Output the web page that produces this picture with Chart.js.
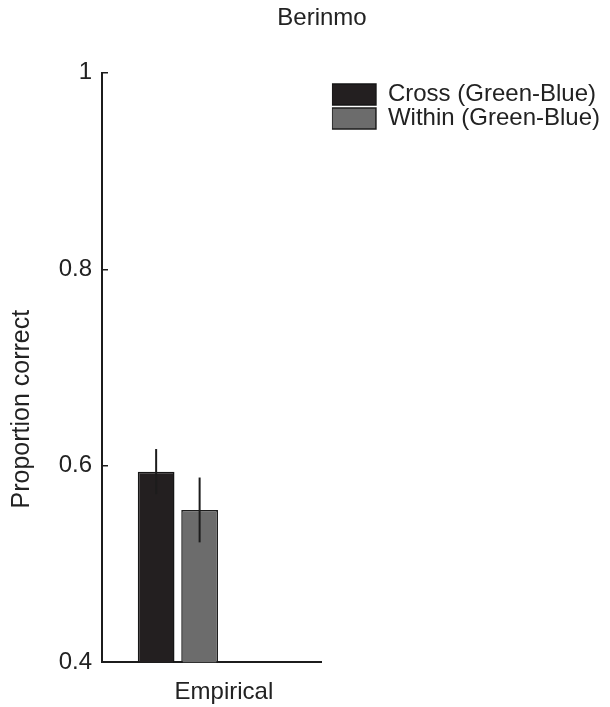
<!DOCTYPE html>
<html>
<head>
<meta charset="utf-8">
<script src="https://cdn.jsdelivr.net/npm/chart.js@4"></script>
<style>
  body { margin: 0; background: #fff; }
  #wrap { width: 610px; height: 707px; }
</style>
</head>
<body>
<div id="wrap"><canvas id="grafico" width="610" height="707"></canvas></div>
<script>
// datos
var categorias = ['Empirical'];
var series = ['Cross (Green-Blue)', 'Within (Green-Blue)'];
var valoresCross = [0.594];
var valoresWithin = [0.555];
var errorCross = [0.023];
var errorWithin = [0.033];
var ticksY = [0.4, 0.6, 0.8, 1];

var colorTexto = '#222';
var fuente = 'Liberation Sans, Arial, Helvetica, sans-serif';

/**
 * Dibuja las barras de error encima de cada barra
 */
var barrasError = {
    id: 'barrasError',
    afterDatasetsDraw: function(chart) {
        var ctx = chart.ctx;
        var y = chart.scales.y;
        var errores = [errorCross, errorWithin];
        chart.data.datasets.forEach(function(ds, i) {
            var meta = chart.getDatasetMeta(i);
            meta.data.forEach(function(bar, j) {
                var v = ds.data[j];
                var e = errores[i][j];
                ctx.save();
                ctx.strokeStyle = '#1c1c1c';
                ctx.lineWidth = 2;
                ctx.beginPath();
                ctx.moveTo(bar.x, y.getPixelForValue(v + e));
                ctx.lineTo(bar.x, y.getPixelForValue(v - e));
                ctx.stroke();
                ctx.restore();
            });
        });
    }
};

var data = {
    labels: categorias,
    datasets: [{
        label: series[0],
        data: valoresCross,
        backgroundColor: '#231f20',
        borderColor: '#161616',
        borderWidth: 1.5,
        borderSkipped: false
    }, {
        label: series[1],
        data: valoresWithin,
        backgroundColor: '#6c6c6c',
        borderColor: '#1c1c1c',
        borderWidth: 1.5,
        borderSkipped: false
    }]
};

Chart.defaults.font.family = fuente;
Chart.defaults.color = colorTexto;

new Chart(document.getElementById('grafico'), {
    type: 'bar',
    data: data,
    plugins: [barrasError],
    options: {
        responsive: false,
        animation: false,
        categoryPercentage: 0.573,
        barPercentage: 0.845,
        layout: { padding: { left: 34, right: 0, top: 0, bottom: -16 } },
        plugins: {
            title: {
                display: true,
                text: 'Berinmo',
                color: colorTexto,
                font: { size: 24, weight: 'normal' },
                padding: { top: 4, bottom: 40 }
            },
            legend: {
                position: 'right',
                align: 'start',
                fullSize: false,
                maxWidth: 400,
                title: { display: true, text: '', padding: 0, font: { size: 8 } },
                labels: {
                    boxWidth: 44,
                    boxHeight: 21,
                    padding: 0,
                    color: colorTexto,
                    font: { size: 24 }
                }
            },
            tooltip: { enabled: false }
        },
        scales: {
            x: {
                type: 'category',
                position: 'bottom',
                stack: 'abajo',
                stackWeight: 0.69,
                grid: { display: false, drawTicks: false },
                border: { display: true, color: '#1c1c1c', width: 2 },
                ticks: { font: { size: 24 }, color: colorTexto, padding: 16, labelOffset: 46, maxRotation: 0 }
            },
            x2: {
                type: 'linear',
                axis: 'x',
                position: 'bottom',
                stack: 'abajo',
                stackWeight: 0.31,
                grid: { display: false, drawTicks: false },
                border: { display: true, color: '#1c1c1c', width: 2 },
                ticks: { display: false }
            },
            y: {
                position: 'left',
                min: 0.4,
                max: 1,
                afterFit: function(s) { s.width = 68; },
                afterBuildTicks: function(s) {
                    s.ticks = ticksY.map(function(v) { return { value: v }; });
                },
                ticks: {
                    font: { size: 24 },
                    color: colorTexto,
                    padding: 16,
                    callback: function(v) { return String(+v.toFixed(2)); }
                },
                grid: { drawOnChartArea: false, drawTicks: true, tickLength: -6, color: '#1c1c1c', lineWidth: 1.5 },
                border: { display: true, color: '#1c1c1c', width: 2 },
                title: {
                    display: true,
                    text: 'Proportion correct            ',
                    color: colorTexto,
                    font: { size: 25 },
                    padding: { top: -27, bottom: 0 }
                }
            },
            relleno: {
                type: 'linear',
                axis: 'y',
                position: 'right',
                display: true,
                afterFit: function(s) { s.width = 10; },
                grid: { display: false, drawTicks: false },
                border: { display: false },
                ticks: { display: false }
            }
        }
    }
});
</script>
</body>
</html>
